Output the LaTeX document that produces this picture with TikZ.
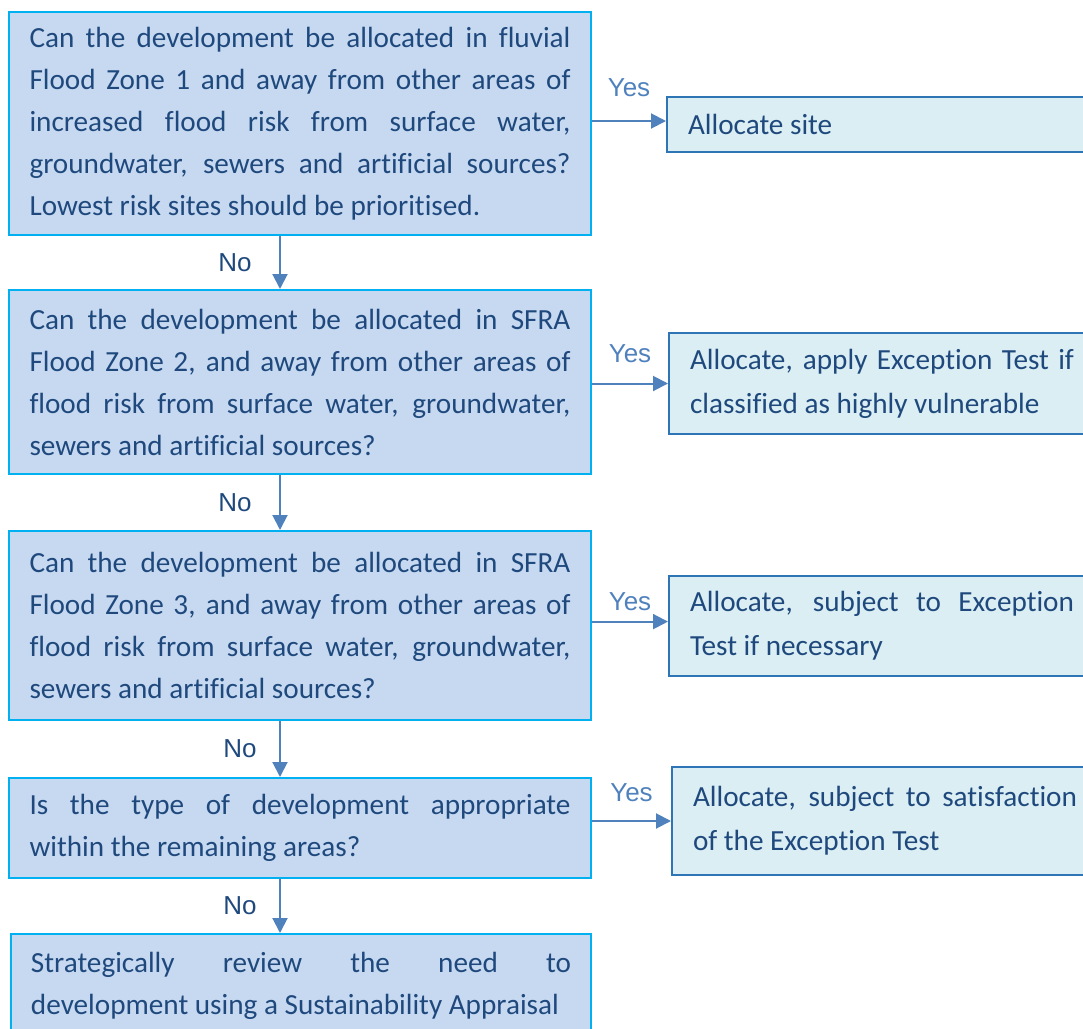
\documentclass[tikz,border=0pt]{standalone}
\usepackage{fontspec}
\setmainfont{Carlito}[Ligatures=NoCommon]
\newfontfamily\answerfont{Liberation Sans}
\usetikzlibrary{arrows.meta,positioning}

\definecolor{qfill}{HTML}{C6D9F1}
\definecolor{qline}{HTML}{00B0F0}
\definecolor{afill}{HTML}{DAEEF3}
\definecolor{aline}{HTML}{2E75B6}
\definecolor{boxtext}{HTML}{1F497D}
\definecolor{flow}{HTML}{4F81BD}

\begin{document}
\begin{tikzpicture}[x=0.5pt,y=-0.5pt,
    every node/.style={inner sep=0pt},
    question/.style={draw=qline,fill=qfill,line width=1pt,text=boxtext,
      font=\fontsize{14.6}{21}\selectfont,
      execute at begin node={\hyphenpenalty=10000\relax\tolerance=10000\relax},
      align=justify,text width=270.5pt,inner xsep=10.25pt,anchor=north west},
    outcome/.style={draw=aline,fill=afill,line width=1pt,text=boxtext,
      font=\fontsize{14.6}{22}\selectfont,
      execute at begin node={\hyphenpenalty=10000\relax\tolerance=10000\relax},
      align=justify,text width=192pt,inner xsep=10.5pt,anchor=north west},
    flowline/.style={draw=flow,line width=1pt,-{Triangle[length=7.5pt,width=7.5pt]}},
    yes/.style={text=flow,font=\answerfont\fontsize{13}{15}\selectfont},
    no/.style={text=boxtext,font=\answerfont\fontsize{13}{15}\selectfont}
  ]
  \useasboundingbox (0,0) rectangle (1083,1029);

  % questions down the left
  \node[question,minimum height=111.5pt] (q1) at (8,11)
    {Can the development be allocated in fluvial \linebreak
     Flood Zone 1 and away from other areas of \linebreak
     increased flood risk from surface water, \linebreak
     groundwater, sewers and artificial sources? \linebreak
     Lowest risk sites should be prioritised.};
  \node[question,minimum height=92pt] (q2) at (8,289)
    {Can the development be allocated in SFRA \linebreak
     Flood Zone 2, and away from other areas of \linebreak
     flood risk from surface water, groundwater, \linebreak
     sewers and artificial sources?};
  \node[question,minimum height=94.5pt] (q3) at (8,530)
    {Can the development be allocated in SFRA \linebreak
     Flood Zone 3, and away from other areas of \linebreak
     flood risk from surface water, groundwater, \linebreak
     sewers and artificial sources?};
  \node[question,minimum height=50pt] (q4) at (8,777)
    {Is the type of development appropriate \linebreak
     within the remaining areas?};
  \node[question,minimum height=52pt,text width=270pt,inner xsep=10pt] (q5) at (10,933)
    {Strategically review the need to \linebreak
     development using a Sustainability Appraisal};

  % outcomes on the right
  \node[outcome,minimum height=27.5pt] (a1) at (666,96) {Allocate site};
  \node[outcome,minimum height=50.5pt] (a2) at (668,332)
    {Allocate, apply Exception Test if \linebreak
     classified as highly vulnerable};
  \node[outcome,minimum height=50pt] (a3) at (668,575)
    {Allocate, subject to Exception \linebreak
     Test if necessary};
  \node[outcome,minimum height=54pt] (a4) at (671,766)
    {Allocate, subject to satisfaction \linebreak
     of the Exception Test};

  \coordinate (spine) at (280,0);

  \draw[flowline] (q1.south -| spine) -- node[no,left=13.75pt] {No} (q2.north -| spine);
  \draw[flowline] (q2.south -| spine) -- node[no,left=13.75pt] {No} (q3.north -| spine);
  \draw[flowline] (q3.south -| spine) -- node[no,left=11.25pt] {No} (q4.north -| spine);
  \draw[flowline] (q4.south -| spine) -- node[no,left=11.25pt] {No} (q5.north -| spine);

  \draw[flowline] ([yshift=1.75pt]a1.west -| q1.east) -- node[yes,above=11.7pt] {Yes} ([yshift=1.75pt]a1.west);
  \draw[flowline] (a2.west -| q2.east) -- node[yes,above=10pt] {Yes} (a2.west);
  \draw[flowline] ([yshift=2.2pt]a3.west -| q3.east) -- node[yes,above=5pt] {Yes} ([yshift=2.2pt]a3.west);
  \draw[flowline] (a4.west -| q4.east) -- node[yes,above=9pt] {Yes} (a4.west);
\end{tikzpicture}
\end{document}
